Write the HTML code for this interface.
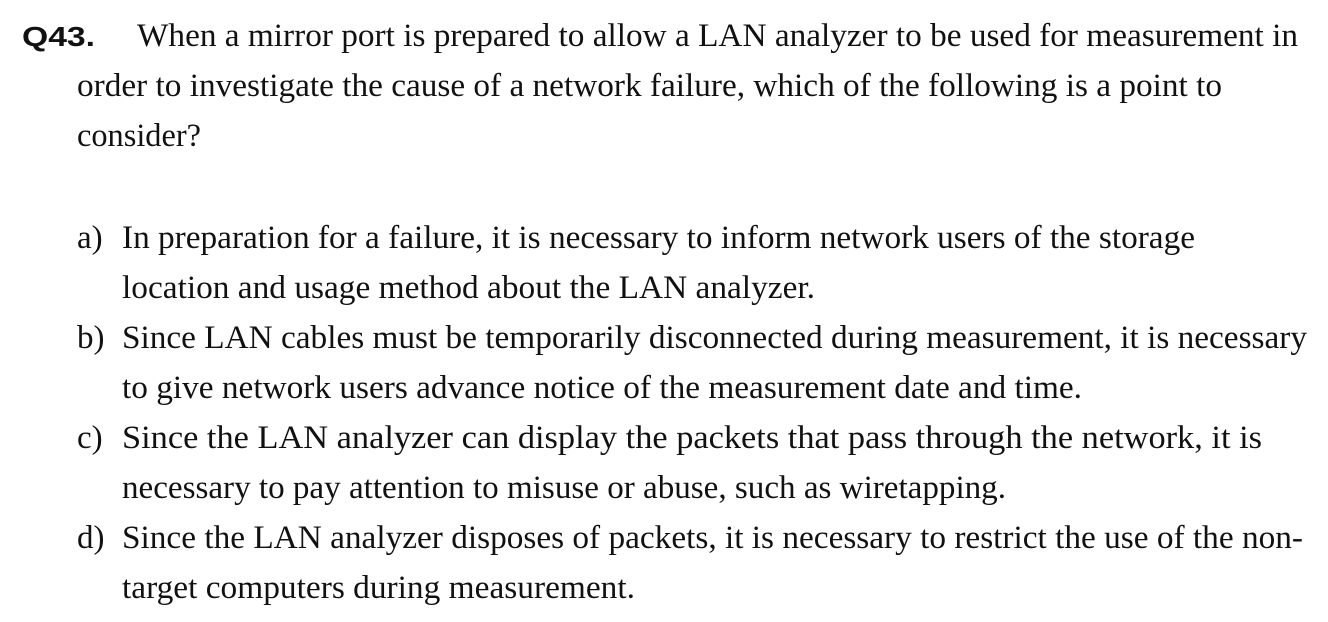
<!DOCTYPE html>
<html><head><meta charset="utf-8"><style>
html,body{margin:0;padding:0;background:#fff;width:1328px;height:622px;overflow:hidden}
svg{display:block}
text{font-family:"Liberation Serif",serif;font-size:33px;fill:#111}
.q{font-family:"Liberation Sans",sans-serif;font-weight:bold;font-size:28px}
</style></head><body>
<svg width="1328" height="622" xmlns="http://www.w3.org/2000/svg">
<text class="q" x="22" y="46" textLength="73" lengthAdjust="spacingAndGlyphs">Q43.</text>
<text x="137" y="46" textLength="1161" lengthAdjust="spacingAndGlyphs">When a mirror port is prepared to allow a LAN analyzer to be used for measurement in</text>
<text x="77" y="96" textLength="1145" lengthAdjust="spacingAndGlyphs">order to investigate the cause of a network failure, which of the following is a point to</text>
<text x="77" y="146" textLength="124" lengthAdjust="spacingAndGlyphs">consider?</text>

<text x="77" y="248">a)</text>
<text x="122" y="248" textLength="1073" lengthAdjust="spacingAndGlyphs">In preparation for a failure, it is necessary to inform network users of the storage</text>
<text x="122" y="298" textLength="693" lengthAdjust="spacingAndGlyphs">location and usage method about the LAN analyzer.</text>

<text x="77" y="348">b)</text>
<text x="122" y="348" textLength="1185" lengthAdjust="spacingAndGlyphs">Since LAN cables must be temporarily disconnected during measurement, it is necessary</text>
<text x="122" y="398" textLength="960" lengthAdjust="spacingAndGlyphs">to give network users advance notice of the measurement date and time.</text>

<text x="77" y="448">c)</text>
<text x="122" y="448" textLength="1140" lengthAdjust="spacingAndGlyphs">Since the LAN analyzer can display the packets that pass through the network, it is</text>
<text x="122" y="498" textLength="884" lengthAdjust="spacingAndGlyphs">necessary to pay attention to misuse or abuse, such as wiretapping.</text>

<text x="77" y="548">d)</text>
<text x="122" y="548" textLength="1181" lengthAdjust="spacingAndGlyphs">Since the LAN analyzer disposes of packets, it is necessary to restrict the use of the non-</text>
<text x="122" y="598" textLength="513" lengthAdjust="spacingAndGlyphs">target computers during measurement.</text>
</svg>
</body></html>
